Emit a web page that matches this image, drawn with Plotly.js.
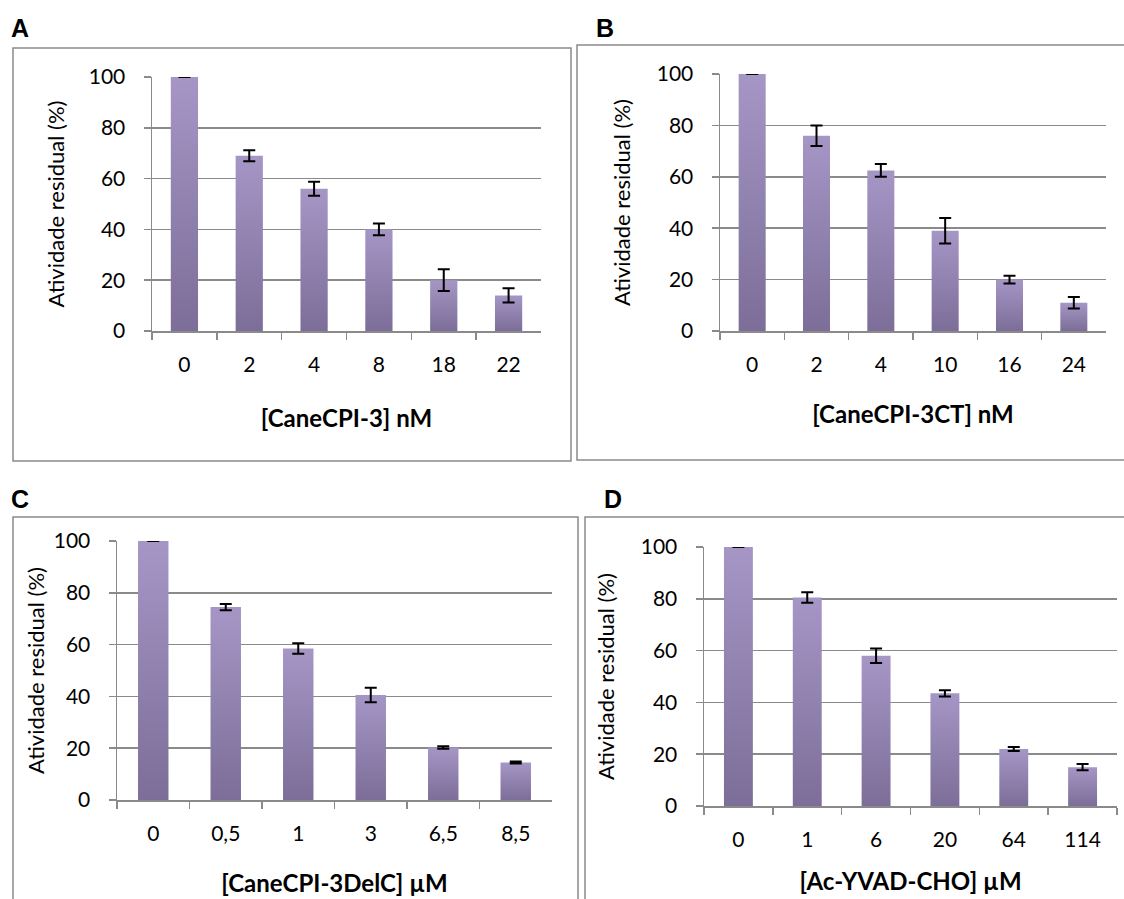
<!DOCTYPE html>
<html>
<head>
<meta charset="utf-8">
<script src="https://cdn.plot.ly/plotly-3.0.1.min.js"></script>
<style>
html,body{margin:0;padding:0;background:#fff;}
#chart{width:1124px;height:899px;}
</style>
</head>
<body>
<div id="chart"></div>
<script>
// ---- data ----
const catsA = ['0','2','4','8','18','22'];
const valsA = [100, 69, 56, 40, 20, 14];
const errA  = [0, 2.2, 2.8, 2.3, 4.3, 2.8];

const catsB = ['0','2','4','10','16','24'];
const valsB = [100, 76, 62.5, 39, 20, 11];
const errB  = [0, 4, 2.5, 5, 1.5, 2.2];

const catsC = ['0','0,5','1','3','6,5','8,5'];
const valsC = [100, 74.5, 58.5, 40.5, 20.3, 14.5];
const errC  = [0, 1.2, 2, 2.8, 0.5, 0.4];

const catsD = ['0','1','6','20','64','114'];
const valsD = [100, 80.5, 58, 43.5, 22, 15];
const errD  = [0, 2, 2.8, 1.2, 0.8, 1.2];

const panelLabels = ['A','B','C','D'];
const xTitles = ['[CaneCPI-3] nM','[CaneCPI-3CT] nM','[CaneCPI-3DelC] µM','[Ac-YVAD-CHO] µM'];
const yTitle = 'Atividade residual (%)';
const yTicks = [0,20,40,60,80,100];

// ---- layout geometry (pixels) ----
const W = 1124, H = 899;
const fx = p => p / W;
const fy = p => 1 - p / H;

const panels = [
  {cats: catsA, vals: valsA, err: errA, x0:152, x1:541, y0:77,  y1:331, box:[13,48,571,461],   lab:[20,28],  xs:35, ys:18},
  {cats: catsB, vals: valsB, err: errB, x0:720, x1:1106,y0:74,  y1:331, box:[577,45,1130,460], lab:[605,28], xs:31, ys:20},
  {cats: catsC, vals: valsC, err: errC, x0:117, x1:552, y0:541, y1:800, box:[13,517,578,905],  lab:[20,499], xs:31, ys:3},
  {cats: catsD, vals: valsD, err: errD, x0:704, x1:1117,y0:547, y1:806, box:[585,517,1130,905],lab:[613,499], xs:23, ys:20}
];

const gray = '#8a8a8a';
const barColor = '#9284b0';
const fam = 'Lato, "Open Sans", sans-serif';
const tickFont = {family: fam, size: 21, color: '#000'};
const titleFont = {family: fam, size: 24, color: '#000', weight: 'bold'};

const traces = [];
const layout = {
  width: W, height: H,
  margin: {l:0, r:0, t:0, b:0},
  paper_bgcolor: '#fff',
  plot_bgcolor: 'rgba(0,0,0,0)',
  showlegend: false,
  shapes: [],
  annotations: [],
  bargap: 0.58
};

panels.forEach((p, i) => {
  const n = i === 0 ? '' : String(i + 1);
  traces.push({
    type: 'bar',
    x: p.cats,
    y: p.vals,
    xaxis: 'x' + n,
    yaxis: 'y' + n,
    marker: {color: barColor, line: {width: 0}},
    error_y: {type: 'data', array: p.err, visible: true, color: '#000', thickness: 2, width: 6},
    hoverinfo: 'none'
  });
  layout['xaxis' + n] = {
    domain: [fx(p.x0), fx(p.x1)],
    anchor: 'y' + n,
    type: 'category',
    showline: true, linecolor: gray, linewidth: 1.5,
    ticks: 'outside', tickson: 'boundaries', ticklen: 7, tickcolor: gray, tickwidth: 1.5,
    showgrid: false, zeroline: false,
    tickfont: tickFont,
    ticklabelstandoff: 14,
    title: {text: xTitles[i], font: titleFont, standoff: p.xs},
    fixedrange: true
  };
  layout['yaxis' + n] = {
    domain: [fy(p.y1), fy(p.y0)],
    anchor: 'x' + n,
    range: [0, 100],
    tickvals: yTicks,
    showline: true, linecolor: gray, linewidth: 1.5,
    ticks: 'outside', ticklen: 7, tickcolor: gray, tickwidth: 1.5,
    showgrid: true, gridcolor: gray, gridwidth: 1.5,
    zeroline: false,
    tickfont: tickFont,
    ticklabelstandoff: 14,
    title: {text: yTitle, font: {family: fam, size: 22, color: '#000'}, standoff: p.ys},
    fixedrange: true
  };
  layout.shapes.push({
    type: 'rect', xref: 'paper', yref: 'paper',
    x0: fx(p.box[0]), x1: fx(p.box[2]), y0: fy(p.box[3]), y1: fy(p.box[1]),
    line: {color: gray, width: 1.5}, fillcolor: 'rgba(0,0,0,0)', layer: 'below'
  });
  layout.annotations.push({
    xref: 'paper', yref: 'paper', x: fx(p.lab[0]), y: fy(p.lab[1]),
    xanchor: 'center', yanchor: 'middle', showarrow: false,
    text: '<b>' + panelLabels[i] + '</b>',
    font: {family: '"Liberation Sans", Arial, sans-serif', size: 25, color: '#000'}
  });
});

Plotly.newPlot('chart', traces, layout, {staticPlot: true, displayModeBar: false}).then(gd => {
  // vertical gradient on bars (lighter at top, darker at bottom)
  const svg = gd.querySelector('.main-svg');
  const ns = 'http://www.w3.org/2000/svg';
  let defs = svg.querySelector('defs');
  if (!defs) { defs = document.createElementNS(ns, 'defs'); svg.insertBefore(defs, svg.firstChild); }
  const lg = document.createElementNS(ns, 'linearGradient');
  lg.setAttribute('id', 'barGrad');
  lg.setAttribute('x1', '0'); lg.setAttribute('y1', '0');
  lg.setAttribute('x2', '0'); lg.setAttribute('y2', '1');
  [['0%', '#a596c6'], ['100%', '#7c6e98']].forEach(([o, c]) => {
    const st = document.createElementNS(ns, 'stop');
    st.setAttribute('offset', o); st.setAttribute('stop-color', c);
    lg.appendChild(st);
  });
  defs.appendChild(lg);
  gd.querySelectorAll('.bars .point path').forEach(pth => {
    pth.style.fill = 'url(#barGrad)';
  });
});
</script>
</body>
</html>
